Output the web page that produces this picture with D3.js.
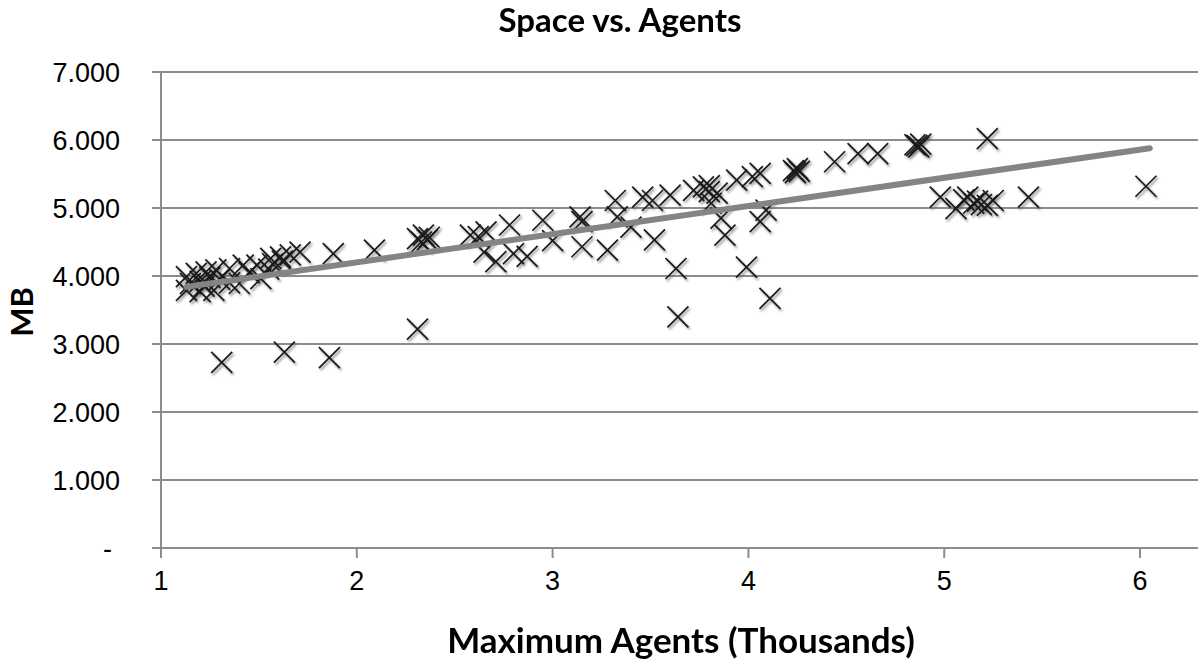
<!DOCTYPE html>
<html>
<head>
<meta charset="utf-8">
<script src="https://d3js.org/d3.v7.min.js"></script>
<style>
  body { margin: 0; background: #fff; }
  svg { display: block; }
</style>
</head>
<body>
<script>
    // values in thousands of agents / thousands of MB
    var agents = [1.13, 1.18, 1.23, 1.28, 1.35, 1.42, 1.49, 1.56, 1.61, 1.66, 1.71, 1.88,
        1.13, 1.20, 1.27, 1.40, 1.51, 1.15, 1.20, 1.25, 1.30, 1.62, 1.57, 2.09,
        1.45, 1.35, 1.55, 1.22,
        1.31, 1.63, 1.86, 2.31,
        2.31, 2.34, 2.37, 2.33, 2.36,
        2.58, 2.62, 2.66, 2.78, 2.95, 3.14, 3.15,
        2.65, 2.71, 2.80, 2.87, 3.00, 3.15, 3.28,
        3.32, 3.33, 3.40, 3.46, 3.51, 3.60, 3.52, 3.63,
        3.72, 3.77, 3.80, 3.80, 3.84, 3.81, 3.86, 3.88, 3.94, 4.02, 4.06, 4.09, 4.06, 3.99,
        3.64, 4.11,
        4.23, 4.25, 4.24, 4.26,
        4.44, 4.56, 4.66,
        4.85, 4.87, 4.88, 4.86,
        5.22,
        4.98, 5.06, 5.12, 5.15, 5.10, 5.17, 5.19, 5.22, 5.25, 5.43, 6.03];
    var space = [3.99, 4.04, 4.06, 4.09, 4.11, 4.16, 4.16, 4.26, 4.28, 4.31, 4.35, 4.33,
        3.79, 3.77, 3.79, 3.89, 3.96, 3.89, 3.92, 3.98, 3.95, 4.22, 4.18, 4.38,
        4.05, 3.90, 4.10, 3.85,
        2.73, 2.88, 2.80, 3.22,
        4.55, 4.60, 4.57, 4.50, 4.53,
        4.60, 4.58, 4.65, 4.75, 4.82, 4.87, 4.80,
        4.35, 4.21, 4.33, 4.29, 4.52, 4.43, 4.38,
        5.11, 4.87, 4.72, 5.16, 5.11, 5.19, 4.53, 4.11,
        5.26, 5.31, 5.33, 5.24, 5.22, 5.07, 4.85, 4.60, 5.41, 5.46, 5.51, 4.97, 4.80, 4.13,
        3.40, 3.67,
        5.55, 5.58, 5.52, 5.54,
        5.68, 5.80, 5.80,
        5.93, 5.90, 5.94, 5.92,
        6.02,
        5.16, 4.99, 5.16, 5.07, 5.12, 5.10, 5.05, 5.04, 5.11, 5.16, 5.32];

    // linear trendline, end points
    var trendX = [1.13, 6.05];
    var trendY = [3.84, 5.88];

    var xTicks = [1, 2, 3, 4, 5, 6];
    var yTicks = [0, 1, 2, 3, 4, 5, 6, 7];

    var width = 1200, height = 663;
    var margin = {left: 161, top: 72, right: 2, bottom: 115};

    var svg = d3.select('body').append('svg')
        .attr('width', width)
        .attr('height', height);

    var x = d3.scaleLinear()
        .domain([1, 6.296])
        .range([margin.left, width - margin.right]);

    var y = d3.scaleLinear()
        .domain([0, 7])
        .range([height - margin.bottom, margin.top]);

    var gridColor = '#8c8c8c';

    // horizontal gridlines with small ticks to the left
    svg.append('g')
        .selectAll('line')
        .data(yTicks)
        .enter().append('line')
        .attr('x1', margin.left - 9)
        .attr('x2', width - margin.right)
        .attr('y1', d => y(d))
        .attr('y2', d => y(d))
        .attr('stroke', gridColor)
        .attr('stroke-width', 2);

    // vertical axis line
    svg.append('line')
        .attr('x1', x(1)).attr('x2', x(1))
        .attr('y1', y(7)).attr('y2', y(0) + 10)
        .attr('stroke', gridColor)
        .attr('stroke-width', 2);

    // x ticks
    svg.append('g')
        .selectAll('line')
        .data(xTicks)
        .enter().append('line')
        .attr('x1', d => x(d)).attr('x2', d => x(d))
        .attr('y1', y(0)).attr('y2', y(0) + 10)
        .attr('stroke', gridColor)
        .attr('stroke-width', 2);

    var tickFont = '"Liberation Sans", Arial, sans-serif';

    svg.append('g')
        .selectAll('text')
        .data(yTicks)
        .enter().append('text')
        .attr('x', d => d === 0 ? margin.left - 49 : margin.left - 41)
        .attr('y', d => y(d))
        .attr('dy', '0.36em')
        .attr('text-anchor', 'end')
        .attr('font-family', tickFont)
        .attr('font-size', 27)
        .attr('fill', '#000')
        .text(d => d === 0 ? '-' : d3.format('.3f')(d));

    svg.append('g')
        .selectAll('text')
        .data(xTicks)
        .enter().append('text')
        .attr('x', d => x(d))
        .attr('y', y(0) + 42)
        .attr('text-anchor', 'middle')
        .attr('font-family', tickFont)
        .attr('font-size', 27)
        .attr('fill', '#000')
        .text(d => d);

    // markers
    var s = 10.5;
    var cross = 'M' + (-s) + ',' + (-s) + 'L' + s + ',' + s + 'M' + (-s) + ',' + s + 'L' + s + ',' + (-s);

    var defs = svg.append('defs');
    defs.append('filter')
        .attr('id', 'soft')
        .attr('x', '-50%').attr('y', '-50%')
        .attr('width', '200%').attr('height', '200%')
        .append('feGaussianBlur')
        .attr('stdDeviation', 1.2);

    var pts = agents.map((a, i) => ({x: a, y: space[i]}));

    svg.append('g')
        .attr('filter', 'url(#soft)')
        .selectAll('path')
        .data(pts)
        .enter().append('path')
        .attr('transform', d => 'translate(' + [x(d.x) + 1.5, y(d.y) + 2] + ')')
        .attr('d', cross)
        .attr('fill', 'none')
        .attr('stroke', '#666')
        .attr('stroke-opacity', 0.6)
        .attr('stroke-width', 2.2);

    svg.append('g')
        .selectAll('path')
        .data(pts)
        .enter().append('path')
        .attr('transform', d => 'translate(' + [x(d.x), y(d.y)] + ')')
        .attr('d', cross)
        .attr('fill', 'none')
        .attr('stroke', '#1a1a1a')
        .attr('stroke-width', 1.7);

    // trendline
    var line = d3.line()
        .x(d => x(d[0]))
        .y(d => y(d[1]));

    svg.append('path')
        .datum(trendX.map((v, i) => [v, trendY[i]]))
        .attr('d', line)
        .attr('fill', 'none')
        .attr('stroke', '#848484')
        .attr('stroke-width', 6)
        .attr('stroke-linecap', 'round');

    var titleFont = 'Lato, "Open Sans", sans-serif';

    svg.append('text')
        .attr('x', 620)
        .attr('y', 32)
        .attr('text-anchor', 'middle')
        .attr('font-family', titleFont)
        .attr('font-weight', 'bold')
        .attr('font-size', 33)
        .text('Space vs. Agents');

    svg.append('text')
        .attr('x', 681)
        .attr('y', 653)
        .attr('text-anchor', 'middle')
        .attr('font-family', titleFont)
        .attr('font-weight', 'bold')
        .attr('font-size', 35)
        .text('Maximum Agents (Thousands)');

    svg.append('text')
        .attr('transform', 'translate(33,' + 312 + ') rotate(-90)')
        .attr('text-anchor', 'middle')
        .attr('font-family', titleFont)
        .attr('font-weight', 'bold')
        .attr('font-size', 31)
        .text('MB');
</script>
</body>
</html>
